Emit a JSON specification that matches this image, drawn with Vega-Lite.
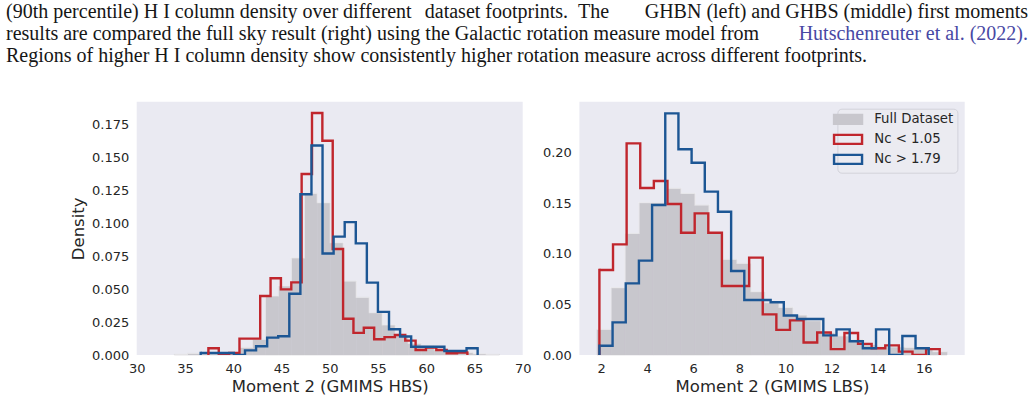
{
  "$schema": "https://vega.github.io/schema/vega-lite/v6.json",
  "background": "white",
  "padding": {"left": 6, "top": 0, "right": 0, "bottom": 0},
  "config": {
    "view": {"stroke": null},
    "axis": {
      "domain": false, "ticks": false, "grid": false,
      "labelFont": "DejaVu Sans", "labelFontSize": 13, "labelColor": "#262626",
      "titleFont": "DejaVu Sans", "titleFontSize": 16.5, "titleFontWeight": "normal", "titleColor": "#262626"
    }
  },
  "datasets": {
    "caption": [
      {"line": 1, "part": "start", "kind": "text", "text": "(90th percentile) H I column density over different"},
      {"line": 1, "part": "mid", "kind": "text", "text": "dataset footprints.\u2002The"},
      {"line": 1, "part": "end", "kind": "text", "text": "GHBN (left) and GHBS (middle) first moments"},
      {"line": 2, "part": "start", "kind": "text", "text": "results are compared the full sky result (right) using the Galactic rotation measure model from"},
      {"line": 2, "part": "end", "kind": "link", "text": "Hutschenreuter et al. (2022)."},
      {"line": 3, "part": "start", "kind": "text", "text": "Regions of higher H I column density show consistently higher rotation measure across different footprints."}
    ],
    "hist": [
      {"panel":"HBS","series":"Full Dataset","x0":33.9,"x1":35.247,"d":0.0005},
      {"panel":"HBS","series":"Full Dataset","x0":35.247,"x1":36.594,"d":0.0013},
      {"panel":"HBS","series":"Full Dataset","x0":36.594,"x1":37.941,"d":0.001},
      {"panel":"HBS","series":"Full Dataset","x0":37.941,"x1":39.288,"d":0.001},
      {"panel":"HBS","series":"Full Dataset","x0":39.288,"x1":40.635,"d":0.0015},
      {"panel":"HBS","series":"Full Dataset","x0":40.635,"x1":41.982,"d":0.0058},
      {"panel":"HBS","series":"Full Dataset","x0":41.982,"x1":43.329,"d":0.0119},
      {"panel":"HBS","series":"Full Dataset","x0":43.329,"x1":44.676,"d":0.0448},
      {"panel":"HBS","series":"Full Dataset","x0":44.676,"x1":46.023,"d":0.0524},
      {"panel":"HBS","series":"Full Dataset","x0":46.023,"x1":47.37,"d":0.0738},
      {"panel":"HBS","series":"Full Dataset","x0":47.37,"x1":48.717,"d":0.1227},
      {"panel":"HBS","series":"Full Dataset","x0":48.717,"x1":50.064,"d":0.1156},
      {"panel":"HBS","series":"Full Dataset","x0":50.064,"x1":51.411,"d":0.0852},
      {"panel":"HBS","series":"Full Dataset","x0":51.411,"x1":52.758,"d":0.0561},
      {"panel":"HBS","series":"Full Dataset","x0":52.758,"x1":54.105,"d":0.0438},
      {"panel":"HBS","series":"Full Dataset","x0":54.105,"x1":55.452,"d":0.0321},
      {"panel":"HBS","series":"Full Dataset","x0":55.452,"x1":56.799,"d":0.0228},
      {"panel":"HBS","series":"Full Dataset","x0":56.799,"x1":58.146,"d":0.0152},
      {"panel":"HBS","series":"Full Dataset","x0":58.146,"x1":59.493,"d":0.0089},
      {"panel":"HBS","series":"Full Dataset","x0":59.493,"x1":60.84,"d":0.007},
      {"panel":"HBS","series":"Full Dataset","x0":60.84,"x1":62.187,"d":0.004},
      {"panel":"HBS","series":"Full Dataset","x0":62.187,"x1":63.534,"d":0.003},
      {"panel":"HBS","series":"Full Dataset","x0":63.534,"x1":64.881,"d":0.002},
      {"panel":"HBS","series":"Full Dataset","x0":64.881,"x1":66.228,"d":0.001},
      {"panel":"HBS","series":"Full Dataset","x0":66.228,"x1":67.575,"d":0.0005},

      {"panel":"HBS","series":"Nc < 1.05","x0":37.43,"x1":38.5036,"d":0.0051},
      {"panel":"HBS","series":"Nc < 1.05","x0":38.5036,"x1":39.5772,"d":0},
      {"panel":"HBS","series":"Nc < 1.05","x0":39.5772,"x1":40.6508,"d":0.0015},
      {"panel":"HBS","series":"Nc < 1.05","x0":40.6508,"x1":41.7244,"d":0.0124},
      {"panel":"HBS","series":"Nc < 1.05","x0":41.7244,"x1":42.798,"d":0.0124},
      {"panel":"HBS","series":"Nc < 1.05","x0":42.798,"x1":43.8716,"d":0.0448},
      {"panel":"HBS","series":"Nc < 1.05","x0":43.8716,"x1":44.9452,"d":0.0582},
      {"panel":"HBS","series":"Nc < 1.05","x0":44.9452,"x1":46.0188,"d":0.0498},
      {"panel":"HBS","series":"Nc < 1.05","x0":46.0188,"x1":47.0924,"d":0.0551},
      {"panel":"HBS","series":"Nc < 1.05","x0":47.0924,"x1":48.166,"d":0.1373},
      {"panel":"HBS","series":"Nc < 1.05","x0":48.166,"x1":49.2396,"d":0.1836},
      {"panel":"HBS","series":"Nc < 1.05","x0":49.2396,"x1":50.3132,"d":0.1626},
      {"panel":"HBS","series":"Nc < 1.05","x0":50.3132,"x1":51.3868,"d":0.0804},
      {"panel":"HBS","series":"Nc < 1.05","x0":51.3868,"x1":52.4604,"d":0.0275},
      {"panel":"HBS","series":"Nc < 1.05","x0":52.4604,"x1":53.534,"d":0.0168},
      {"panel":"HBS","series":"Nc < 1.05","x0":53.534,"x1":54.6076,"d":0.0207},
      {"panel":"HBS","series":"Nc < 1.05","x0":54.6076,"x1":55.6812,"d":0.0119},
      {"panel":"HBS","series":"Nc < 1.05","x0":55.6812,"x1":56.7548,"d":0.0136},
      {"panel":"HBS","series":"Nc < 1.05","x0":56.7548,"x1":57.8284,"d":0.0152},
      {"panel":"HBS","series":"Nc < 1.05","x0":57.8284,"x1":58.902,"d":0.0109},
      {"panel":"HBS","series":"Nc < 1.05","x0":58.902,"x1":59.9756,"d":0.0038},
      {"panel":"HBS","series":"Nc < 1.05","x0":59.9756,"x1":61.0492,"d":0.0056},
      {"panel":"HBS","series":"Nc < 1.05","x0":61.0492,"x1":62.1228,"d":0.0038},
      {"panel":"HBS","series":"Nc < 1.05","x0":62.1228,"x1":63.1964,"d":0.0013},
      {"panel":"HBS","series":"Nc < 1.05","x0":63.1964,"x1":64.27,"d":0.0018},

      {"panel":"HBS","series":"Nc > 1.79","x0":36.63,"x1":37.778,"d":0.0015},
      {"panel":"HBS","series":"Nc > 1.79","x0":37.778,"x1":38.926,"d":0.0015},
      {"panel":"HBS","series":"Nc > 1.79","x0":38.926,"x1":40.074,"d":0.0015},
      {"panel":"HBS","series":"Nc > 1.79","x0":40.074,"x1":41.222,"d":0},
      {"panel":"HBS","series":"Nc > 1.79","x0":41.222,"x1":42.37,"d":0.0035},
      {"panel":"HBS","series":"Nc > 1.79","x0":42.37,"x1":43.518,"d":0.0066},
      {"panel":"HBS","series":"Nc > 1.79","x0":43.518,"x1":44.666,"d":0.0132},
      {"panel":"HBS","series":"Nc > 1.79","x0":44.666,"x1":45.814,"d":0.0142},
      {"panel":"HBS","series":"Nc > 1.79","x0":45.814,"x1":46.962,"d":0.0465},
      {"panel":"HBS","series":"Nc > 1.79","x0":46.962,"x1":48.11,"d":0.122},
      {"panel":"HBS","series":"Nc > 1.79","x0":48.11,"x1":49.258,"d":0.159},
      {"panel":"HBS","series":"Nc > 1.79","x0":49.258,"x1":50.406,"d":0.077},
      {"panel":"HBS","series":"Nc > 1.79","x0":50.406,"x1":51.554,"d":0.0898},
      {"panel":"HBS","series":"Nc > 1.79","x0":51.554,"x1":52.702,"d":0.1008},
      {"panel":"HBS","series":"Nc > 1.79","x0":52.702,"x1":53.85,"d":0.0847},
      {"panel":"HBS","series":"Nc > 1.79","x0":53.85,"x1":54.998,"d":0.0549},
      {"panel":"HBS","series":"Nc > 1.79","x0":54.998,"x1":56.146,"d":0.0327},
      {"panel":"HBS","series":"Nc > 1.79","x0":56.146,"x1":57.294,"d":0.0195},
      {"panel":"HBS","series":"Nc > 1.79","x0":57.294,"x1":58.442,"d":0.014},
      {"panel":"HBS","series":"Nc > 1.79","x0":58.442,"x1":59.59,"d":0.0063},
      {"panel":"HBS","series":"Nc > 1.79","x0":59.59,"x1":60.738,"d":0.0063},
      {"panel":"HBS","series":"Nc > 1.79","x0":60.738,"x1":61.886,"d":0.0063},
      {"panel":"HBS","series":"Nc > 1.79","x0":61.886,"x1":63.034,"d":0.003},
      {"panel":"HBS","series":"Nc > 1.79","x0":63.034,"x1":64.182,"d":0.003},
      {"panel":"HBS","series":"Nc > 1.79","x0":64.182,"x1":65.33,"d":0.0051},

      {"panel":"LBS","series":"Full Dataset","x0":1.826,"x1":2.4335,"d":0.0253},
      {"panel":"LBS","series":"Full Dataset","x0":2.4335,"x1":3.041,"d":0.0664},
      {"panel":"LBS","series":"Full Dataset","x0":3.041,"x1":3.6485,"d":0.12},
      {"panel":"LBS","series":"Full Dataset","x0":3.6485,"x1":4.256,"d":0.1503},
      {"panel":"LBS","series":"Full Dataset","x0":4.256,"x1":4.8635,"d":0.1503},
      {"panel":"LBS","series":"Full Dataset","x0":4.8635,"x1":5.471,"d":0.1645},
      {"panel":"LBS","series":"Full Dataset","x0":5.471,"x1":6.0785,"d":0.1595},
      {"panel":"LBS","series":"Full Dataset","x0":6.0785,"x1":6.686,"d":0.148},
      {"panel":"LBS","series":"Full Dataset","x0":6.686,"x1":7.2935,"d":0.12},
      {"panel":"LBS","series":"Full Dataset","x0":7.2935,"x1":7.901,"d":0.0944},
      {"panel":"LBS","series":"Full Dataset","x0":7.901,"x1":8.5085,"d":0.0905},
      {"panel":"LBS","series":"Full Dataset","x0":8.5085,"x1":9.116,"d":0.0625},
      {"panel":"LBS","series":"Full Dataset","x0":9.116,"x1":9.7235,"d":0.0516},
      {"panel":"LBS","series":"Full Dataset","x0":9.7235,"x1":10.331,"d":0.047},
      {"panel":"LBS","series":"Full Dataset","x0":10.331,"x1":10.9385,"d":0.0395},
      {"panel":"LBS","series":"Full Dataset","x0":10.9385,"x1":11.546,"d":0.034},
      {"panel":"LBS","series":"Full Dataset","x0":11.546,"x1":12.1535,"d":0.022},
      {"panel":"LBS","series":"Full Dataset","x0":12.1535,"x1":12.761,"d":0.019},
      {"panel":"LBS","series":"Full Dataset","x0":12.761,"x1":13.3685,"d":0.0152},
      {"panel":"LBS","series":"Full Dataset","x0":13.3685,"x1":13.976,"d":0.0105},
      {"panel":"LBS","series":"Full Dataset","x0":13.976,"x1":14.5835,"d":0.0085},
      {"panel":"LBS","series":"Full Dataset","x0":14.5835,"x1":15.191,"d":0.008},
      {"panel":"LBS","series":"Full Dataset","x0":15.191,"x1":15.7985,"d":0.0075},
      {"panel":"LBS","series":"Full Dataset","x0":15.7985,"x1":16.406,"d":0.0065},
      {"panel":"LBS","series":"Full Dataset","x0":16.406,"x1":17.0135,"d":0.0033},

      {"panel":"LBS","series":"Nc < 1.05","x0":1.928,"x1":2.5187,"d":0.0839},
      {"panel":"LBS","series":"Nc < 1.05","x0":2.5187,"x1":3.1094,"d":0.1092},
      {"panel":"LBS","series":"Nc < 1.05","x0":3.1094,"x1":3.7001,"d":0.2089},
      {"panel":"LBS","series":"Nc < 1.05","x0":3.7001,"x1":4.2908,"d":0.1648},
      {"panel":"LBS","series":"Nc < 1.05","x0":4.2908,"x1":4.8815,"d":0.1717},
      {"panel":"LBS","series":"Nc < 1.05","x0":4.8815,"x1":5.4722,"d":0.149},
      {"panel":"LBS","series":"Nc < 1.05","x0":5.4722,"x1":6.0629,"d":0.1207},
      {"panel":"LBS","series":"Nc < 1.05","x0":6.0629,"x1":6.6536,"d":0.1398},
      {"panel":"LBS","series":"Nc < 1.05","x0":6.6536,"x1":7.2443,"d":0.1207},
      {"panel":"LBS","series":"Nc < 1.05","x0":7.2443,"x1":7.835,"d":0.0681},
      {"panel":"LBS","series":"Nc < 1.05","x0":7.835,"x1":8.4257,"d":0.0681},
      {"panel":"LBS","series":"Nc < 1.05","x0":8.4257,"x1":9.0164,"d":0.0961},
      {"panel":"LBS","series":"Nc < 1.05","x0":9.0164,"x1":9.6071,"d":0.0401},
      {"panel":"LBS","series":"Nc < 1.05","x0":9.6071,"x1":10.1978,"d":0.0248},
      {"panel":"LBS","series":"Nc < 1.05","x0":10.1978,"x1":10.7885,"d":0.0342},
      {"panel":"LBS","series":"Nc < 1.05","x0":10.7885,"x1":11.3792,"d":0.0124},
      {"panel":"LBS","series":"Nc < 1.05","x0":11.3792,"x1":11.9699,"d":0.0222},
      {"panel":"LBS","series":"Nc < 1.05","x0":11.9699,"x1":12.5606,"d":0.0058},
      {"panel":"LBS","series":"Nc < 1.05","x0":12.5606,"x1":13.1513,"d":0.0217},
      {"panel":"LBS","series":"Nc < 1.05","x0":13.1513,"x1":13.742,"d":0.011},
      {"panel":"LBS","series":"Nc < 1.05","x0":13.742,"x1":14.3327,"d":0.0066},
      {"panel":"LBS","series":"Nc < 1.05","x0":14.3327,"x1":14.9234,"d":0.0095},
      {"panel":"LBS","series":"Nc < 1.05","x0":14.9234,"x1":15.5141,"d":0.0033},
      {"panel":"LBS","series":"Nc < 1.05","x0":15.5141,"x1":16.1048,"d":0},
      {"panel":"LBS","series":"Nc < 1.05","x0":16.1048,"x1":16.6955,"d":0.0058},

      {"panel":"LBS","series":"Nc > 1.79","x0":1.928,"x1":2.4996,"d":0.0092},
      {"panel":"LBS","series":"Nc > 1.79","x0":2.4996,"x1":3.0712,"d":0.0322},
      {"panel":"LBS","series":"Nc > 1.79","x0":3.0712,"x1":3.6428,"d":0.0707},
      {"panel":"LBS","series":"Nc > 1.79","x0":3.6428,"x1":4.2144,"d":0.0931},
      {"panel":"LBS","series":"Nc > 1.79","x0":4.2144,"x1":4.786,"d":0.148},
      {"panel":"LBS","series":"Nc > 1.79","x0":4.786,"x1":5.3576,"d":0.2385},
      {"panel":"LBS","series":"Nc > 1.79","x0":5.3576,"x1":5.9292,"d":0.203},
      {"panel":"LBS","series":"Nc > 1.79","x0":5.9292,"x1":6.5008,"d":0.1898},
      {"panel":"LBS","series":"Nc > 1.79","x0":6.5008,"x1":7.0724,"d":0.1612},
      {"panel":"LBS","series":"Nc > 1.79","x0":7.0724,"x1":7.644,"d":0.1414},
      {"panel":"LBS","series":"Nc > 1.79","x0":7.644,"x1":8.2156,"d":0.0829},
      {"panel":"LBS","series":"Nc > 1.79","x0":8.2156,"x1":8.7872,"d":0.0543},
      {"panel":"LBS","series":"Nc > 1.79","x0":8.7872,"x1":9.3588,"d":0.0543},
      {"panel":"LBS","series":"Nc > 1.79","x0":9.3588,"x1":9.9304,"d":0.0521},
      {"panel":"LBS","series":"Nc > 1.79","x0":9.9304,"x1":10.502,"d":0.039},
      {"panel":"LBS","series":"Nc > 1.79","x0":10.502,"x1":11.0736,"d":0.0355},
      {"panel":"LBS","series":"Nc > 1.79","x0":11.0736,"x1":11.6452,"d":0.0355},
      {"panel":"LBS","series":"Nc > 1.79","x0":11.6452,"x1":12.2168,"d":0.0194},
      {"panel":"LBS","series":"Nc > 1.79","x0":12.2168,"x1":12.7884,"d":0.0253},
      {"panel":"LBS","series":"Nc > 1.79","x0":12.7884,"x1":13.36,"d":0.0135},
      {"panel":"LBS","series":"Nc > 1.79","x0":13.36,"x1":13.9316,"d":0.0066},
      {"panel":"LBS","series":"Nc > 1.79","x0":13.9316,"x1":14.5032,"d":0.0253},
      {"panel":"LBS","series":"Nc > 1.79","x0":14.5032,"x1":15.0748,"d":0},
      {"panel":"LBS","series":"Nc > 1.79","x0":15.0748,"x1":15.6464,"d":0.0188},
      {"panel":"LBS","series":"Nc > 1.79","x0":15.6464,"x1":16.218,"d":0.0066}
    ]
  },
  "spacing": 34.7,
  "resolve": {"scale": {"color": "independent"}, "legend": {"color": "independent"}},
  "vconcat": [
    {
      "width": 1022,
      "height": 67,
      "data": {"name": "caption"},
      "encoding": {
        "x": {"field": "part", "type": "ordinal", "scale": {"type": "point", "domain": ["start", "mid", "end"], "padding": 0}, "axis": null},
        "y": {"field": "line", "type": "ordinal", "scale": {"type": "point", "range": [18, 62], "padding": 0}, "axis": null},
        "text": {"field": "text"}
      },
      "layer": [
        {
          "transform": [{"filter": "datum.part === 'start'"}],
          "mark": {"type": "text", "align": "left", "baseline": "alphabetic", "font": "Liberation Serif", "fontSize": 20, "color": "#161616"}
        },
        {
          "transform": [{"filter": "datum.part === 'mid'"}],
          "mark": {"type": "text", "align": "center", "baseline": "alphabetic", "font": "Liberation Serif", "fontSize": 20, "color": "#161616"}
        },
        {
          "transform": [{"filter": "datum.part === 'end' && datum.kind === 'text'"}],
          "mark": {"type": "text", "align": "right", "baseline": "alphabetic", "font": "Liberation Serif", "fontSize": 20, "color": "#161616"}
        },
        {
          "transform": [{"filter": "datum.kind === 'link'"}],
          "mark": {"type": "text", "align": "right", "baseline": "alphabetic", "font": "Liberation Serif", "fontSize": 20, "color": "#4848a4"}
        }
      ]
    },
    {
      "spacing": 10.7,
      "resolve": {"scale": {"color": "independent"}, "legend": {"color": "independent"}},
      "hconcat": [
        {
          "width": 52.8,
          "height": 253.3,
          "data": {"values": [{}]},
          "mark": {"type": "text"},
          "encoding": {"text": {"value": ""}}
        },
        {
          "width": 386,
          "height": 253.3,
          "view": {"fill": "#eaeaf2", "stroke": null},
          "data": {"name": "hist"},
          "transform": [
            {"filter": "datum.panel === 'HBS'"},
            {"fold": ["x0", "x1"], "as": ["edge", "xv"]},
            {"joinaggregate": [{"op": "min", "field": "xv", "as": "xmin"}, {"op": "max", "field": "xv", "as": "xmax"}], "groupby": ["series"]}
          ],
          "encoding": {
            "x": {"field": "xv", "type": "quantitative",
                  "scale": {"domain": [30, 70], "nice": false, "zero": false},
                  "axis": {"title": "Moment 2 (GMIMS HBS)", "values": [30, 35, 40, 45, 50, 55, 60, 65, 70], "format": "d", "labelPadding": 7, "titlePadding": 3.5, "labelFlush": false}},
            "y": {"field": "d", "type": "quantitative",
                  "scale": {"domain": [0, 0.1922], "nice": false},
                  "axis": {"title": "Density", "values": [0, 0.025, 0.05, 0.075, 0.1, 0.125, 0.15, 0.175], "format": ".3f", "labelPadding": 8, "titlePadding": 5}}
          },
          "layer": [
            {
              "transform": [{"filter": "datum.series === 'Full Dataset' && datum.edge === 'x0'"}],
              "mark": {"type": "rect", "fill": "#c8c7cd", "stroke": "#c8c7cd", "strokeWidth": 0.5},
              "encoding": {"x2": {"field": "x1"}, "y2": {"datum": 0}}
            },
            {
              "transform": [{"filter": "datum.series === 'Full Dataset'"}],
              "mark": {"type": "line", "stroke": "#ffffff", "strokeOpacity": 0.45, "strokeWidth": 1.3, "clip": true},
              "encoding": {"order": [{"field": "xv", "type": "quantitative"}, {"field": "edge", "type": "ordinal", "sort": "descending"}]}
            },
            {
              "transform": [{"filter": "datum.series !== 'Full Dataset'"}],
              "mark": {"type": "line", "strokeWidth": 2.4, "strokeJoin": "miter", "clip": true},
              "encoding": {
                "color": {"field": "series", "type": "nominal", "scale": {"domain": ["Full Dataset", "Nc < 1.05", "Nc > 1.79"], "range": ["#c8c7cd", "#c0262d", "#1c5694"]}, "legend": null},
                "order": [{"field": "xv", "type": "quantitative"}, {"field": "edge", "type": "ordinal", "sort": "descending"}]
              }
            },
            {
              "transform": [{"filter": "datum.series !== 'Full Dataset' && (datum.xv === datum.xmin || datum.xv === datum.xmax)"}],
              "mark": {"type": "rule", "strokeWidth": 2.4, "strokeCap": "square", "clip": true},
              "encoding": {
                "y2": {"datum": 0},
                "color": {"field": "series", "type": "nominal", "scale": {"domain": ["Full Dataset", "Nc < 1.05", "Nc > 1.79"], "range": ["#c8c7cd", "#c0262d", "#1c5694"]}, "legend": null}
              }
            }
          ]
        },
        {
          "width": 385.3,
          "height": 253.3,
          "view": {"fill": "#eaeaf2", "stroke": null},
          "data": {"name": "hist"},
          "transform": [
            {"filter": "datum.panel === 'LBS'"},
            {"fold": ["x0", "x1"], "as": ["edge", "xv"]},
            {"joinaggregate": [{"op": "min", "field": "xv", "as": "xmin"}, {"op": "max", "field": "xv", "as": "xmax"}], "groupby": ["series"]}
          ],
          "encoding": {
            "x": {"field": "xv", "type": "quantitative",
                  "scale": {"domain": [1.06, 17.78], "nice": false, "zero": false},
                  "axis": {"title": "Moment 2 (GMIMS LBS)", "values": [2, 4, 6, 8, 10, 12, 14, 16], "format": "d", "labelPadding": 7, "titlePadding": 3.5, "labelFlush": false}},
            "y": {"field": "d", "type": "quantitative",
                  "scale": {"domain": [0, 0.25], "nice": false},
                  "axis": {"title": null, "values": [0, 0.05, 0.1, 0.15, 0.2], "format": ".2f", "labelPadding": 8}}
          },
          "layer": [
            {
              "transform": [{"filter": "datum.series === 'Full Dataset' && datum.edge === 'x0'"}],
              "mark": {"type": "rect", "fill": "#c8c7cd", "stroke": "#c8c7cd", "strokeWidth": 0.5},
              "encoding": {"x2": {"field": "x1"}, "y2": {"datum": 0}}
            },
            {
              "transform": [{"filter": "datum.series === 'Full Dataset'"}],
              "mark": {"type": "line", "stroke": "#ffffff", "strokeOpacity": 0.45, "strokeWidth": 1.3, "clip": true},
              "encoding": {"order": [{"field": "xv", "type": "quantitative"}, {"field": "edge", "type": "ordinal", "sort": "descending"}]}
            },
            {
              "transform": [{"filter": "datum.series !== 'Full Dataset'"}],
              "mark": {"type": "line", "strokeWidth": 2.4, "strokeJoin": "miter", "clip": true},
              "encoding": {
                "color": {"field": "series", "type": "nominal",
                  "scale": {"domain": ["Full Dataset", "Nc < 1.05", "Nc > 1.79"], "range": ["#c8c7cd", "#c0262d", "#1c5694"]},
                  "legend": {
                    "title": null, "orient": "top-right", "offset": 7,
                    "symbolType": "M-3.111,-1H3.111V1H-3.111Z", "symbolSize": 81, "symbolStrokeWidth": 2.4,
                    "labelFont": "DejaVu Sans", "labelFontSize": 13.3, "labelColor": "#262626", "labelOffset": 19.5,
                    "rowPadding": 1, "padding": 4, "fillColor": "#ebebf1", "strokeColor": "#d2d2da", "cornerRadius": 4,
                    "encode": {"symbols": {"update": {
                      "fill": {"signal": "datum.value === 'Full Dataset' ? '#c8c7cd' : 'transparent'"},
                      "stroke": {"signal": "datum.value === 'Full Dataset' ? '#d6d6dc' : (datum.value === 'Nc < 1.05' ? '#c0262d' : '#1c5694')"},
                      "opacity": {"value": 1}
                    }}}
                  }},
                "order": [{"field": "xv", "type": "quantitative"}, {"field": "edge", "type": "ordinal", "sort": "descending"}]
              }
            },
            {
              "transform": [{"filter": "datum.series !== 'Full Dataset' && (datum.xv === datum.xmin || datum.xv === datum.xmax)"}],
              "mark": {"type": "rule", "strokeWidth": 2.4, "strokeCap": "square", "clip": true},
              "encoding": {
                "y2": {"datum": 0},
                "color": {"field": "series", "type": "nominal",
                  "scale": {"domain": ["Full Dataset", "Nc < 1.05", "Nc > 1.79"], "range": ["#c8c7cd", "#c0262d", "#1c5694"]},
                  "legend": {
                    "title": null, "orient": "top-right", "offset": 7,
                    "symbolType": "M-3.111,-1H3.111V1H-3.111Z", "symbolSize": 81, "symbolStrokeWidth": 2.4,
                    "labelFont": "DejaVu Sans", "labelFontSize": 13.3, "labelColor": "#262626", "labelOffset": 19.5,
                    "rowPadding": 1, "padding": 4, "fillColor": "#ebebf1", "strokeColor": "#d2d2da", "cornerRadius": 4,
                    "encode": {"symbols": {"update": {
                      "fill": {"signal": "datum.value === 'Full Dataset' ? '#c8c7cd' : 'transparent'"},
                      "stroke": {"signal": "datum.value === 'Full Dataset' ? '#d6d6dc' : (datum.value === 'Nc < 1.05' ? '#c0262d' : '#1c5694')"},
                      "opacity": {"value": 1}
                    }}}
                  }}
              }
            }
          ]
        }
      ]
    }
  ]
}
